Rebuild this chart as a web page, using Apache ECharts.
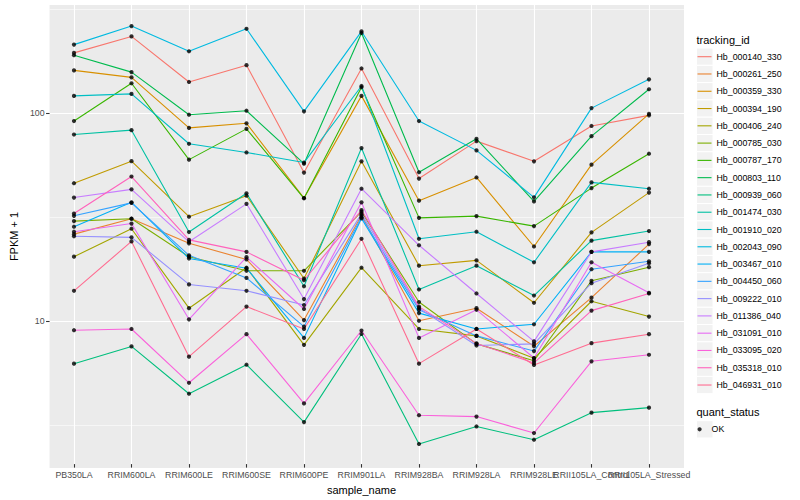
<!DOCTYPE html>
<html><head><meta charset="utf-8">
<script src="https://cdn.jsdelivr.net/npm/echarts@6/dist/echarts.min.js"></script>
<style>html,body{margin:0;padding:0;background:#fff}#c{width:800px;height:500px}</style>
</head><body><div id="c"></div>
<script>
// ---- data ----
const sampleNames = ['PB350LA','RRIM600LA','RRIM600LE','RRIM600SE','RRIM600PE','RRIM901LA','RRIM928BA','RRIM928LA','RRIM928LE','RRII105LA_Control','RRII105LA_Stressed'];
const trackingIds = ['Hb_000140_330','Hb_000261_250','Hb_000359_330','Hb_000394_190','Hb_000406_240','Hb_000785_030','Hb_000787_170','Hb_000803_110','Hb_000939_060','Hb_001474_030','Hb_001910_020','Hb_002043_090','Hb_003467_010','Hb_004450_060','Hb_009222_010','Hb_011386_040','Hb_031091_010','Hb_033095_020','Hb_035318_010','Hb_046931_010'];
const hb_000140_330 = [193.6, 232.7, 139.9, 168.8, 50.9, 162.7, 47.6, 72.3, 57.7, 85.6, 96.4];
const hb_000261_250 = [25.6, 30.4, 23.1, 19.3, 9.81, 31.6, 9.73, 11.2, 7.32, 12.6, 22.9];
const hb_000359_330 = [159.2, 147.3, 83.8, 88.2, 38.3, 119.8, 37.2, 48.2, 22.3, 55.6, 98.0];
const hb_000394_190 = [45.2, 57.8, 31.1, 39.3, 15.6, 57.7, 18.0, 19.1, 11.9, 26.1, 40.7];
const hb_000406_240 = [19.9, 27.2, 11.2, 17.6, 7.44, 17.6, 8.88, 8.22, 6.40, 12.1, 10.2];
const hb_000785_030 = [29.6, 30.4, 19.9, 17.0, 17.0, 32.9, 12.0, 7.52, 6.23, 15.2, 17.7];
const hb_000787_170 = [90.5, 137.9, 58.8, 82.9, 38.2, 131.9, 30.7, 31.3, 28.0, 42.8, 62.8];
const hb_000803_110 = [188.6, 156.2, 97.1, 101.5, 56.2, 241.6, 51.1, 74.2, 36.9, 76.4, 129.0];
const hb_000939_060 = [6.03, 7.31, 4.31, 5.96, 3.14, 8.40, 2.46, 2.99, 2.58, 3.49, 3.69];
const hb_001474_030 = [77.8, 81.7, 26.2, 40.4, 14.3, 66.9, 13.8, 18.0, 12.9, 23.8, 26.5];
const hb_001910_020 = [119.8, 122.5, 70.2, 63.7, 56.9, 133.8, 24.3, 26.3, 18.7, 45.6, 42.5];
const hb_002043_090 = [212.3, 261.1, 197.1, 253.4, 100.8, 246.0, 90.5, 65.2, 38.6, 104.5, 144.1];
const hb_003467_010 = [27.8, 36.5, 19.5, 17.5, 8.04, 30.5, 10.6, 8.88, 9.36, 21.0, 21.0];
const hb_004450_060 = [31.4, 36.3, 20.2, 15.7, 9.12, 30.9, 11.0, 8.22, 6.94, 17.3, 18.9];
const hb_009222_010 = [25.0, 24.7, 14.6, 13.6, 11.6, 32.1, 11.2, 7.38, 7.52, 14.8, 18.5];
const hb_011386_040 = [38.5, 42.2, 23.5, 35.9, 12.4, 42.5, 22.6, 13.2, 7.73, 21.0, 23.4];
const hb_031091_010 = [26.3, 28.8, 9.89, 19.8, 11.1, 36.5, 8.04, 11.0, 6.42, 18.7, 13.3];
const hb_033095_020 = [8.76, 8.88, 4.87, 8.38, 3.87, 8.73, 3.39, 3.34, 2.78, 6.19, 6.66];
const hb_035318_010 = [32.2, 48.7, 24.0, 21.0, 15.3, 33.5, 11.4, 7.56, 6.08, 10.9, 13.2];
const hb_046931_010 = [13.6, 23.6, 6.52, 11.4, 8.88, 24.3, 6.03, 8.88, 5.94, 7.58, 8.38];
const seriesValues = [hb_000140_330, hb_000261_250, hb_000359_330, hb_000394_190, hb_000406_240, hb_000785_030, hb_000787_170, hb_000803_110, hb_000939_060, hb_001474_030, hb_001910_020, hb_002043_090, hb_003467_010, hb_004450_060, hb_009222_010, hb_011386_040, hb_031091_010, hb_033095_020, hb_035318_010, hb_046931_010];
const yTickValues = [10, 100];
const yMinorBreaks = [3.1623, 31.623, 316.23];
const yRange = [1.965, 330.4];
const quantStatus = ['OK'];

// ---- style ----
const palette = ['#F8766D','#EA8331','#D89000','#C09B00','#A3A500','#7CAE00','#39B600','#00BB4E','#00BF7D','#00C1A3','#00BFC4','#00BAE0','#00B0F6','#35A2FF','#9590FF','#C77CFF','#E76BF3','#FA62DB','#FF62BC','#FF6C91'];
const FONT = '"Liberation Sans", Arial, sans-serif';
const rowH = 17.28;
const legendTop = 48.06;
const legend2Center = 429.3;

const chart = echarts.init(document.getElementById('c'), null, {renderer: 'svg', width: 800, height: 500});

const isMajor = v => yTickValues.some(t => Math.abs(t - v) / t < 1e-6);

const lineSeries = trackingIds.map((id, k) => ({
  type: 'line', name: id, xAxisIndex: 1, yAxisIndex: 1,
  data: seriesValues[k], showSymbol: false, symbol: 'none',
  lineStyle: {color: palette[k], width: 1.1}, itemStyle: {color: palette[k]},
  emphasis: {disabled: true}, silent: true, z: 2
}));
const pointSeries = trackingIds.map((id, k) => ({
  type: 'scatter', name: quantStatus[0], xAxisIndex: 1, yAxisIndex: 1,
  data: seriesValues[k], symbol: 'circle', symbolSize: 4.2,
  itemStyle: {color: '#000'}, emphasis: {disabled: true}, silent: true, z: 3
}));
const minorSeries = {
  type: 'line', xAxisIndex: 0, yAxisIndex: 0, data: [], silent: true,
  markLine: {
    silent: true, z: 1, symbol: ['none', 'none'], label: {show: false},
    lineStyle: {color: '#ffffff', width: 0.55, type: 'solid'},
    emphasis: {disabled: true}, animation: false,
    data: yMinorBreaks.map(v => ({yAxis: v}))
  }
};

const keyRects = [];
trackingIds.forEach((id, i) => {
  keyRects.push({type: 'rect', z: 0, shape: {x: 696.5, y: legendTop + i * rowH, width: 16.5, height: rowH},
    style: {fill: '#F2F2F2', stroke: '#ffffff', lineWidth: 1}});
});
keyRects.push({type: 'rect', z: 0, shape: {x: 696.5, y: legend2Center - rowH / 2, width: 16.5, height: rowH},
  style: {fill: '#F2F2F2', stroke: '#ffffff', lineWidth: 1}});

chart.setOption({
  animation: false,
  grid: [
    {left: 40, right: 116, top: 5, bottom: 32, show: true, backgroundColor: '#EBEBEB', borderWidth: 0},
    {left: 74, right: 151, top: 5, bottom: 32, show: false}
  ],
  xAxis: [
    {type: 'value', gridIndex: 0, min: 0, max: 1, show: false},
    {type: 'category', gridIndex: 1, data: sampleNames, boundaryGap: false,
     name: 'sample_name', nameLocation: 'middle', nameGap: 13,
     nameTextStyle: {fontSize: 11, color: '#000', fontFamily: FONT},
     axisLine: {show: false},
     axisTick: {show: true, length: 3.5, interval: 0, lineStyle: {color: '#333333', width: 1.07}},
     axisLabel: {interval: 0, fontSize: 8.8, color: '#4D4D4D', margin: 6, fontFamily: FONT, hideOverlap: false},
     splitLine: {show: true, interval: 0, lineStyle: {color: '#ffffff', width: 1.1}}}
  ],
  yAxis: [
    {type: 'log', logBase: 10, gridIndex: 0, min: yRange[0], max: yRange[1],
     name: 'FPKM + 1', nameLocation: 'middle', nameGap: 21, nameRotate: 90,
     nameTextStyle: {fontSize: 11, color: '#000', fontFamily: FONT},
     axisLine: {show: false},
     axisTick: {show: true, length: 3.5, lineStyle: {color: '#333333', width: 1.07}},
     axisLabel: {fontSize: 8.8, color: '#4D4D4D', margin: 5, fontFamily: FONT,
                 showMinLabel: false, showMaxLabel: false,
                 formatter: v => isMajor(v) ? String(Math.round(v)) : ''},
     splitLine: {show: true, showMinLine: false, showMaxLine: false, lineStyle: {color: '#ffffff', width: 1.1}}},
    {type: 'log', logBase: 10, gridIndex: 1, min: yRange[0], max: yRange[1], show: false}
  ],
  legend: [
    {orient: 'vertical', left: 697.5, top: legendTop, padding: 0, itemGap: 0, itemWidth: 14, itemHeight: 1.1,
     icon: 'rect', data: trackingIds, selectedMode: false,
     textStyle: {fontSize: 8.8, color: '#000', lineHeight: rowH, fontFamily: FONT}},
    {orient: 'vertical', left: 697.5, top: legend2Center - rowH / 2, padding: 0, itemGap: 0, itemWidth: 14, itemHeight: 4.2,
     icon: 'circle', data: quantStatus, selectedMode: false,
     textStyle: {fontSize: 8.8, color: '#000', lineHeight: rowH, fontFamily: FONT}}
  ],
  graphic: keyRects.concat([
    {type: 'text', left: 696.5, top: 34, z: 1, style: {text: 'tracking_id', font: '11px ' + FONT, fill: '#000'}},
    {type: 'text', left: 696.5, top: 406, z: 1, style: {text: 'quant_status', font: '11px ' + FONT, fill: '#000'}}
  ]),
  series: [minorSeries].concat(lineSeries, pointSeries)
});
</script>
</body></html>
